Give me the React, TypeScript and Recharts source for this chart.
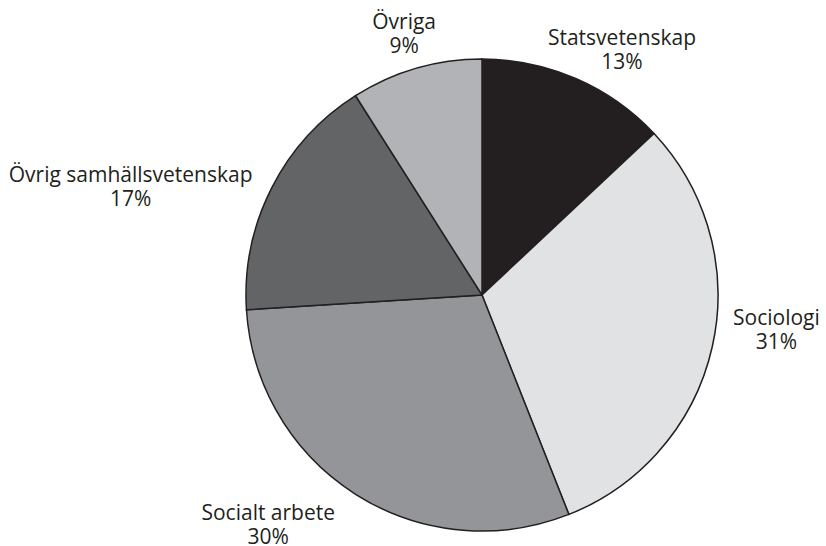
import { PieChart, Pie, Cell } from "recharts";

// Fördelning per ämne (andel i procent)
const subjects = [
  "Statsvetenskap",
  "Sociologi",
  "Socialt arbete",
  "Övrig samhällsvetenskap",
  "Övriga",
];
const shares = [13, 31, 30, 17, 9];
const sliceColors = ["#231f20", "#e1e2e4", "#939598", "#636466", "#b1b3b6"];

const data = subjects.map((name, i) => ({ name, value: shares[i] }));

// label nudges (px) from the point just outside the slice middle
const labelNudge: [number, number][] = [
  [32, 0],
  [29, -29],
  [-68, -5],
  [-109, 10],
  [-2, -5],
];

const RAD = Math.PI / 180;

function renderLabel(props: any) {
  const { cx, cy, midAngle, outerRadius, index, name, value } = props;
  const r = outerRadius + 36;
  const [dx, dy] = labelNudge[index] || [0, 0];
  const x = cx + r * Math.cos(-midAngle * RAD) + dx;
  const y = cy + r * Math.sin(-midAngle * RAD) + dy;
  return (
    <text
      x={x}
      y={y}
      textAnchor="middle"
      fill="#231f20"
      fontSize={21}
      fontFamily="'Open Sans', sans-serif"
    >
      <tspan x={x} y={y}>
        {name}
      </tspan>
      <tspan x={x} y={y + 24}>
        {value}%
      </tspan>
    </text>
  );
}

export default function App() {
  return (
    <div style={{ position: "absolute", left: 0, top: 0, background: "#fff" }}>
      <PieChart width={826} height={546}>
        <Pie
          data={data}
          dataKey="value"
          nameKey="name"
          cx={477}
          cy={290}
          outerRadius={236}
          startAngle={90}
          endAngle={-270}
          stroke="#231f20"
          strokeWidth={1.5}
          label={renderLabel}
          labelLine={false}
          isAnimationActive={false}
        >
          {data.map((d, i) => (
            <Cell key={d.name} fill={sliceColors[i]} />
          ))}
        </Pie>
      </PieChart>
    </div>
  );
}
